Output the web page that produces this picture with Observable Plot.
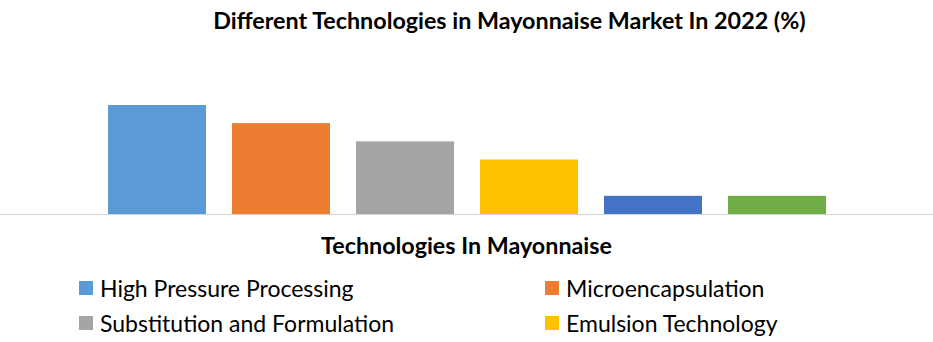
<!DOCTYPE html>
<html>
<head>
<meta charset="utf-8">
<script src="https://cdn.jsdelivr.net/npm/d3@7"></script>
<script src="https://cdn.jsdelivr.net/npm/@observablehq/plot@0.6"></script>
<style>
  html, body { margin: 0; padding: 0; background: #fff; }
  body { position: relative; width: 933px; height: 342px; overflow: hidden; font-family: Lato, "Open Sans", sans-serif; color: #000; }
  #title { position: absolute; left: 0; top: 0; height: 40px; line-height: 40px; font-weight: bold; font-size: 23.3px; text-align: center; padding-left: 86px; box-sizing: border-box; width: 933px; white-space: nowrap; }
  #chart { position: absolute; left: 0; top: 40px; }
  #axisTitle { position: absolute; left: 0; top: 230px; height: 30px; line-height: 30px; font-weight: bold; font-size: 23.3px; text-align: center; width: 933px; white-space: nowrap; }
  #legend { position: absolute; left: 0; top: 270px; width: 933px; }
  .item { position: absolute; display: flex; align-items: center; font-size: 23px; white-space: nowrap; height: 35px; }
  .sw { width: 14px; height: 14px; margin-right: 7px; }
</style>
</head>
<body>
<div id="title"></div>
<div id="chart"></div>
<div id="axisTitle"></div>
<div id="legend"></div>
<script>
const titleText = "Different Technologies in Mayonnaise Market In 2022 (%)";
const axisTitleText = "Technologies In Mayonnaise";
const categories = [
  "High Pressure Processing",
  "Microencapsulation",
  "Substitution and Formulation",
  "Emulsion Technology",
  "Nanotechnology",
  "Others"
];
const values = [30, 25, 20, 15, 5, 5];
const colors = ["#5B9BD5", "#ED7D31", "#A5A5A5", "#FFC000", "#4472C4", "#70AD47"];
const legendShown = 4;

document.getElementById("title").textContent = titleText;
document.getElementById("axisTitle").textContent = axisTitleText;

const data = categories.map((c, i) => ({category: c, value: values[i]}));

const chart = Plot.plot({
  width: 933,
  height: 185,
  marginTop: 65,
  marginBottom: 11,
  marginLeft: 0,
  marginRight: 0,
  x: {domain: categories, range: [81, 852], padding: 0.211, axis: null},
  y: {domain: [0, 30], axis: null},
  color: {domain: categories, range: colors},
  marks: [
    Plot.barY(data, {x: "category", y: "value", fill: "category"}),
    Plot.ruleY([0], {stroke: "#D4D4D4", strokeWidth: 1})
  ]
});
document.getElementById("chart").appendChild(chart);

const legend = document.getElementById("legend");
const colX = [79, 545];
categories.slice(0, legendShown).forEach((c, i) => {
  const row = Math.floor(i / 2), col = i % 2;
  const div = document.createElement("div");
  div.className = "item";
  div.style.left = colX[col] + "px";
  div.style.top = (row * 35) + "px";
  const sw = document.createElement("span");
  sw.className = "sw";
  sw.style.background = colors[i];
  const t = document.createElement("span");
  t.textContent = c;
  div.appendChild(sw);
  div.appendChild(t);
  legend.appendChild(div);
});
</script>
</body>
</html>
